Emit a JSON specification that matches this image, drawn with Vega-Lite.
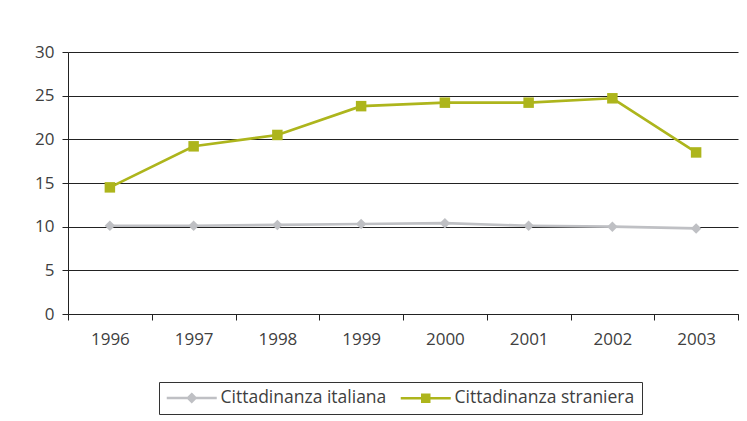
{
  "$schema": "https://vega.github.io/schema/vega-lite/v6.json",
  "width": 670,
  "height": 262,
  "autosize": {"type": "none"},
  "padding": {"left": 68, "top": 52, "right": 9, "bottom": 107},
  "config": {"view": {"stroke": null}, "font": "Open Sans"},
  "data": {
    "values": [
      {"anno": "1996", "serie": "Cittadinanza italiana", "valore": 10.1},
      {"anno": "1997", "serie": "Cittadinanza italiana", "valore": 10.1},
      {"anno": "1998", "serie": "Cittadinanza italiana", "valore": 10.2},
      {"anno": "1999", "serie": "Cittadinanza italiana", "valore": 10.3},
      {"anno": "2000", "serie": "Cittadinanza italiana", "valore": 10.4},
      {"anno": "2001", "serie": "Cittadinanza italiana", "valore": 10.1},
      {"anno": "2002", "serie": "Cittadinanza italiana", "valore": 10.0},
      {"anno": "2003", "serie": "Cittadinanza italiana", "valore": 9.8},
      {"anno": "1996", "serie": "Cittadinanza straniera", "valore": 14.5},
      {"anno": "1997", "serie": "Cittadinanza straniera", "valore": 19.2},
      {"anno": "1998", "serie": "Cittadinanza straniera", "valore": 20.5},
      {"anno": "1999", "serie": "Cittadinanza straniera", "valore": 23.8},
      {"anno": "2000", "serie": "Cittadinanza straniera", "valore": 24.2},
      {"anno": "2001", "serie": "Cittadinanza straniera", "valore": 24.2},
      {"anno": "2002", "serie": "Cittadinanza straniera", "valore": 24.7},
      {"anno": "2003", "serie": "Cittadinanza straniera", "valore": 18.5}
    ]
  },
  "encoding": {
    "x": {
      "field": "anno",
      "type": "ordinal",
      "bandPosition": 0.5,
      "scale": {"type": "band", "paddingInner": 0, "paddingOuter": 0},
      "axis": {
        "title": null,
        "tickBand": "extent",
        "labelAngle": 0,
        "labelFontSize": 17,
        "labelColor": "#404040",
        "labelPadding": 11,
        "tickSize": 6,
        "tickColor": "#222222",
        "domainColor": "#222222",
        "grid": false
      }
    },
    "y": {
      "field": "valore",
      "type": "quantitative",
      "scale": {"domain": [0, 30], "nice": false},
      "axis": {
        "title": null,
        "values": [0, 5, 10, 15, 20, 25, 30],
        "labelFontSize": 17,
        "labelColor": "#404040",
        "labelPadding": 8,
        "tickSize": 6,
        "tickColor": "#222222",
        "domainColor": "#222222",
        "grid": true,
        "gridColor": "#222222",
        "gridOpacity": 1
      }
    }
  },
  "layer": [
    {
      "mark": {"type": "line", "strokeWidth": 2.6},
      "encoding": {
        "color": {
          "field": "serie",
          "type": "nominal",
          "scale": {
            "domain": ["Cittadinanza italiana", "Cittadinanza straniera"],
            "range": ["#bfc0c4", "#adb51c"]
          },
          "legend": {
            "title": null,
            "orient": "none",
            "legendX": 91,
            "legendY": 330,
            "direction": "horizontal",
            "strokeColor": "#333333",
            "fillColor": "#ffffff",
            "padding": 7,
            "labelFontSize": 17.5,
            "labelColor": "#404040",
            "labelLimit": 400,
            "symbolSize": 100,
            "symbolStrokeWidth": 2.5,
            "symbolOffset": 17,
            "labelOffset": 20,
            "columnPadding": 8,
            "encode": {
              "symbols": {
                "update": {
                  "shape": {"signal": "datum.value === 'Cittadinanza italiana' ? 'M-5,0L5,0M0,-0.75L0.75,0L0,0.75L-0.75,0Z' : 'M-5,0L5,0M-0.7,-0.7L0.7,-0.7L0.7,0.7L-0.7,0.7Z'"},
                  "fill": {"signal": "scale('color', datum.value)"},
                  "stroke": {"signal": "scale('color', datum.value)"},
                  "strokeWidth": {"value": 2.5},
                  "strokeOpacity": {"value": 1},
                  "opacity": {"value": 1}
                }
              }
            }
          }
        }
      }
    },
    {
      "mark": {"type": "point", "filled": true, "opacity": 1, "size": 110},
      "encoding": {
        "color": {"field": "serie", "type": "nominal", "legend": null},
        "shape": {
          "condition": {"test": "datum.serie === 'Cittadinanza italiana'", "value": "diamond"},
          "value": "square"
        }
      }
    }
  ]
}
